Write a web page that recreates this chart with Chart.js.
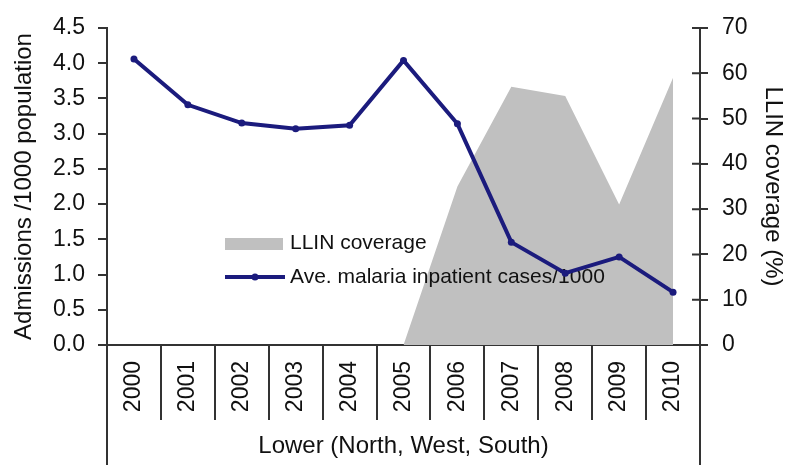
<!DOCTYPE html>
<html>
<head>
<meta charset="utf-8">
<script src="https://cdn.jsdelivr.net/npm/chart.js@4/dist/chart.umd.min.js"></script>
<style>
  html, body { margin: 0; padding: 0; background: #fff; }
  #wrap { width: 787px; height: 469px; }
</style>
</head>
<body>
<div id="wrap"><canvas id="chart1" width="787" height="469"></canvas></div>
<script>
// values
const years = ["2000", "2001", "2002", "2003", "2004", "2005", "2006", "2007", "2008", "2009", "2010"];
const admissions = [4.06, 3.41, 3.15, 3.07, 3.12, 4.04, 3.14, 1.46, 1.02, 1.25, 0.75];
const llinCoverage = [null, null, null, null, null, 0, 35, 57, 55, 31, 59];
const legendLabels = ["LLIN coverage", "Ave. malaria inpatient cases/1000"];

const navy = "#1b1b7d";
const grey = "#c0c0c0";
const axisCol = "#333";
const fontFam = "'Liberation Sans', Arial, sans-serif";

// legend sits inside the plot, drawn after the grey area but under the line
const insideLegend = {
  id: "insideLegend",
  afterDatasetDraw(chart, args) {
    if (args.index !== 1) return;
    const ctx = chart.ctx;
    const a = chart.chartArea;
    const x0 = a.left + 118;
    ctx.save();
    ctx.fillStyle = grey;
    ctx.fillRect(x0, 238, 58, 12);
    ctx.strokeStyle = navy;
    ctx.lineWidth = 4;
    ctx.beginPath();
    ctx.moveTo(x0, 277);
    ctx.lineTo(x0 + 60, 277);
    ctx.stroke();
    ctx.fillStyle = navy;
    ctx.beginPath();
    ctx.arc(x0 + 30, 277, 3.5, 0, Math.PI * 2);
    ctx.fill();
    ctx.fillStyle = "#111";
    ctx.font = "21px " + fontFam;
    ctx.textBaseline = "middle";
    ctx.fillText(legendLabels[0], x0 + 65, 243);
    ctx.fillText(legendLabels[1], x0 + 65, 277);
    ctx.restore();
  }
};

// extra axis bits: crossing ticks on the right axis, long outer boundary lines
const axisExtras = {
  id: "axisExtras",
  afterDraw(chart) {
    const ctx = chart.ctx;
    const a = chart.chartArea;
    const y2 = chart.scales.y2;
    ctx.save();
    ctx.strokeStyle = axisCol;
    ctx.lineWidth = 2;
    ctx.beginPath();
    y2.ticks.forEach(t => {
      const py = y2.getPixelForValue(t.value);
      ctx.moveTo(a.right - 8, py);
      ctx.lineTo(a.right, py);
    });
    ctx.moveTo(a.left, a.bottom);
    ctx.lineTo(a.left, 465);
    ctx.moveTo(a.right, a.bottom);
    ctx.lineTo(a.right, 465);
    ctx.stroke();
    ctx.restore();
  }
};

document.addEventListener("DOMContentLoaded", function() {
  const ctx = document.getElementById("chart1").getContext("2d");
  new Chart(ctx, {
    type: "line",
    data: {
      labels: years,
      datasets: [{
        label: legendLabels[1],
        data: admissions,
        yAxisID: "y",
        borderColor: navy,
        backgroundColor: navy,
        borderWidth: 4,
        pointRadius: 3.5,
        pointBackgroundColor: navy,
        pointBorderWidth: 0,
        tension: 0,
        fill: false
      }, {
        label: legendLabels[0],
        data: llinCoverage,
        yAxisID: "y2",
        borderWidth: 0,
        borderColor: grey,
        backgroundColor: grey,
        pointRadius: 0,
        tension: 0,
        fill: "origin"
      }]
    },
    options: {
      responsive: false,
      animation: false,
      layout: { padding: { top: 28, left: 0, right: 0, bottom: 0 } },
      plugins: {
        legend: { display: false },
        tooltip: { enabled: false }
      },
      scales: {
        x: {
          offset: true,
          grid: {
            offset: true,
            drawOnChartArea: false,
            tickLength: 75,
            color: axisCol,
            lineWidth: 2
          },
          border: { color: axisCol, width: 2 },
          ticks: {
            minRotation: 90,
            maxRotation: 90,
            padding: -59,
            color: "#111",
            font: { family: fontFam, size: 23 }
          },
          title: {
            display: true,
            text: "Lower (North, West, South)",
            color: "#111",
            font: { family: fontFam, size: 24 },
            padding: { top: 0, bottom: 8 }
          },
          afterFit(scale) { scale.height = 124; }
        },
        y: {
          position: "left",
          min: 0,
          max: 4.5,
          grid: {
            drawOnChartArea: false,
            tickLength: 9,
            color: axisCol,
            lineWidth: 2
          },
          border: { color: axisCol, width: 2 },
          ticks: {
            stepSize: 0.5,
            padding: 13,
            color: "#111",
            font: { family: fontFam, size: 23 },
            callback: v => Number(v).toFixed(1)
          },
          title: {
            display: true,
            text: "Admissions /1000 population",
            color: "#111",
            font: { family: fontFam, size: 24 },
            padding: { top: 10, bottom: 0 }
          },
          afterFit(scale) { scale.width = 107; }
        },
        y2: {
          position: "right",
          min: 0,
          max: 70,
          grid: {
            drawOnChartArea: false,
            tickLength: 8,
            color: axisCol,
            lineWidth: 2
          },
          border: { color: axisCol, width: 2 },
          ticks: {
            stepSize: 10,
            padding: 14,
            color: "#111",
            font: { family: fontFam, size: 23 }
          },
          title: {
            display: true,
            text: "LLIN coverage (%)",
            color: "#111",
            font: { family: fontFam, size: 24 },
            padding: { top: 0, bottom: 0 }
          },
          afterFit(scale) { scale.width = 87; }
        }
      }
    },
    plugins: [insideLegend, axisExtras]
  });
});
</script>
</body>
</html>
